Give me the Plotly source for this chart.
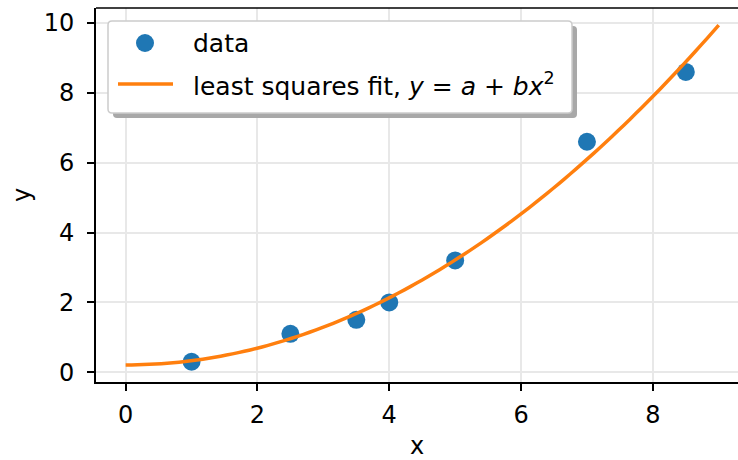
import numpy as np
import plotly.graph_objects as go

# data
x_data = [1.0, 2.5, 3.5, 4.0, 5.0, 7.0, 8.5]
y_data = [0.3, 1.1, 1.5, 2.0, 3.2, 6.6, 8.6]
x_ticks = [0, 2, 4, 6, 8]
y_ticks = [0, 2, 4, 6, 8, 10]
legend_labels = ["data", "least squares fit, <i>y</i> = <i>a</i> + <i>bx</i><sup>2</sup>"]

# least squares fit y = a + b x^2
xa = np.array(x_data)
M = np.column_stack([np.ones_like(xa), xa**2])
(a, b), *_ = np.linalg.lstsq(M, np.array(y_data), rcond=None)
xx = np.linspace(0, 9, 101)
yy = a + b * xx**2

W, H = 738, 460
L, R, T, B = 96, 0, 8, 78
pw, ph = W - L - R, H - T - B

def px(xp):
    return (xp - L) / pw

def py(yp):
    return (H - B - yp) / ph

FONT = "DejaVu Sans"
FS = 25
TFS = 24
fig = go.Figure()
fig.add_trace(go.Scatter(x=x_data, y=y_data, mode="markers", name=legend_labels[0],
                         marker=dict(color="#1f77b4", size=18, line=dict(width=0))))
fig.add_trace(go.Scatter(x=xx, y=yy, mode="lines", name=legend_labels[1],
                         line=dict(color="#ff7f0e", width=3.5, simplify=False)))

def rounded_rect(x0, y0, x1, y1, r):
    pts = [
        f"M {px(x0 + r)} {py(y0)}",
        f"L {px(x1 - r)} {py(y0)}",
        f"Q {px(x1)} {py(y0)} {px(x1)} {py(y0 + r)}",
        f"L {px(x1)} {py(y1 - r)}",
        f"Q {px(x1)} {py(y1)} {px(x1 - r)} {py(y1)}",
        f"L {px(x0 + r)} {py(y1)}",
        f"Q {px(x0)} {py(y1)} {px(x0)} {py(y1 - r)}",
        f"L {px(x0)} {py(y0 + r)}",
        f"Q {px(x0)} {py(y0)} {px(x0 + r)} {py(y0)}",
        "Z",
    ]
    return " ".join(pts)

# legend (shadow, box, handles, labels)
fig.add_shape(type="path", xref="paper", yref="paper",
              path=rounded_rect(113, 26, 577, 118, 4),
              fillcolor="#a8a8a8", line=dict(width=0), layer="above")
fig.add_shape(type="path", xref="paper", yref="paper",
              path=rounded_rect(108, 21, 572, 113, 4),
              fillcolor="white", line=dict(color="#cccccc", width=1.5), layer="above")
fig.add_shape(type="circle", xref="paper", yref="paper",
              x0=px(136), x1=px(154), y0=py(52), y1=py(34),
              fillcolor="#1f77b4", line=dict(width=0), layer="above")
fig.add_shape(type="line", xref="paper", yref="paper",
              x0=px(118), x1=px(173), y0=py(84), y1=py(84),
              line=dict(color="#ff7f0e", width=3.5), layer="above")
for lbl, ycen in zip(legend_labels, [43, 84]):
    fig.add_annotation(xref="paper", yref="paper", x=px(191), y=py(ycen),
                       xanchor="left", yanchor="middle", text=lbl, showarrow=False,
                       font=dict(family=FONT, size=FS, color="black"))

axis_common = dict(showline=True, linecolor="black", linewidth=1.7,
                   ticks="outside", ticklen=7, tickwidth=1.7, tickcolor="black",
                   showgrid=True, gridcolor="#e8e8e8", gridwidth=1.5,
                   zeroline=False, automargin=False,
                   tickfont=dict(family=FONT, size=TFS, color="black"))

fig.update_xaxes(range=[-0.45, -0.45 + pw / 65.9], tickvals=x_ticks,
                 title=dict(text="x", font=dict(family=FONT, size=TFS, color="black"), standoff=15),
                 ticklabelstandoff=3, **axis_common)
fig.update_yaxes(range=[-0.28, 10.43], tickvals=y_ticks,
                 title=dict(text="y", font=dict(family=FONT, size=TFS, color="black"), standoff=6),
                 ticklabelstandoff=8, **axis_common)

# top spine
fig.add_shape(type="line", xref="paper", yref="paper", x0=0, x1=1, y0=1, y1=1,
              line=dict(color="black", width=1.7), layer="above")

fig.update_layout(
    width=W, height=H,
    margin=dict(l=L, r=R, t=T, b=B),
    plot_bgcolor="white", paper_bgcolor="white",
    font=dict(family=FONT, size=FS, color="black"),
    showlegend=False,
)

fig.write_html("out.html", config={"displayModeBar": False},
               post_script="document.body.style.margin='0px';")
